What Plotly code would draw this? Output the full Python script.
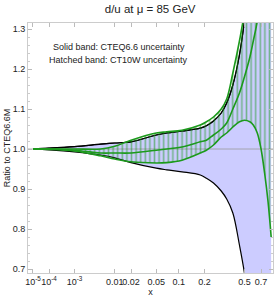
import numpy as np
import plotly.graph_objects as go

# x values (momentum fraction)
x = [1e-5, 1e-4, 1e-3, 0.005, 0.01, 0.02, 0.05, 0.07, 0.11, 0.18, 0.21, 0.25,
     0.3, 0.34, 0.39, 0.45, 0.5, 0.56, 0.6, 0.65, 0.7, 0.75, 0.8, 0.85]

# CTEQ6.6 uncertainty band (ratio to CTEQ6.6M)
cteq66_up = [1.0, 1.002, 1.006, 1.012, 1.015, 1.018, 1.035, 1.04, 1.045, 1.052, 1.058, 1.07,
             1.09, 1.115, 1.16, 1.235, 1.32, 1.44, 1.52, 1.64, 1.8, 2.0, 2.2, 2.4]
cteq66_lo = [1.0, 0.998, 0.993, 0.985, 0.978, 0.966, 0.952, 0.948, 0.943, 0.935, 0.927, 0.915,
             0.895, 0.875, 0.84, 0.76, 0.69, 0.58, 0.5, 0.42, 0.35, 0.3, 0.25, 0.2]

# CT10W uncertainty band and central
ct10w_up = [1.0, 1.0, 1.0, 1.0, 1.007, 1.022, 1.04, 1.043, 1.047, 1.06, 1.068, 1.08,
            1.1, 1.125, 1.19, 1.27, 1.34, 1.42, 1.5, 1.65, 1.8, 2.0, 2.2, 2.5]
ct10w_lo = [1.0, 0.999, 0.995, 0.983, 0.975, 0.968, 0.965, 0.966, 0.972, 0.99, 0.997, 1.01,
            1.03, 1.04, 1.055, 1.068, 1.072, 1.068, 1.06, 1.04, 1.0, 0.94, 0.87, 0.78]
ct10w_mid = [1.0, 1.0, 0.997, 0.99, 0.99, 0.99, 0.997, 1.0, 1.005, 1.018, 1.022, 1.035,
             1.05, 1.065, 1.1, 1.14, 1.18, 1.23, 1.27, 1.32, 1.4, 1.5, 1.6, 1.75]

tick_x = [1e-5, 1e-4, 1e-3, 0.01, 0.02, 0.05, 0.1, 0.2, 0.5, 0.7]
tick_text = ["10<sup>-5</sup>", "10<sup>-4</sup>", "10<sup>-3</sup>", "0.01", "0.02",
             "0.05", "0.1", "0.2", "0.5", "0.7"]

P = 0.2  # axis uses x^0.2 scaling
t = np.array(x) ** P

green = "#1c9a1c"
font = "Liberation Sans, Arial, sans-serif"

fig = go.Figure()
# CTEQ6.6 solid band
fig.add_trace(go.Scatter(x=t, y=cteq66_lo, mode="lines", line=dict(color="black", width=1.2, shape="spline"),
                         showlegend=False, hoverinfo="skip"))
fig.add_trace(go.Scatter(x=t, y=cteq66_up, mode="lines", line=dict(color="black", width=1.2, shape="spline"),
                         fill="tonexty", fillcolor="#ccccff", showlegend=False, hoverinfo="skip"))
# reference line at 1
fig.add_trace(go.Scatter(x=[0.0, 1.0], y=[1.0, 1.0], mode="lines", line=dict(color="#999999", width=0.8),
                         showlegend=False, hoverinfo="skip"))
# CTEQ6.6 edges again on top
fig.add_trace(go.Scatter(x=t, y=cteq66_up, mode="lines", line=dict(color="black", width=1.2, shape="spline"),
                         showlegend=False, hoverinfo="skip"))
# CT10W hatched band
fig.add_trace(go.Scatter(x=t, y=ct10w_lo, mode="lines", line=dict(color=green, width=1.6, shape="spline"),
                         showlegend=False, hoverinfo="skip"))
fig.add_trace(go.Scatter(x=t, y=ct10w_up, mode="lines", line=dict(color=green, width=1.6, shape="spline"),
                         fill="tonexty", fillcolor="rgba(0,0,0,0)",
                         fillpattern=dict(shape="|", size=4.6, solidity=0.35, fgcolor=green,
                                          bgcolor="rgba(0,0,0,0)"),
                         showlegend=False, hoverinfo="skip"))
fig.add_trace(go.Scatter(x=t, y=ct10w_mid, mode="lines", line=dict(color=green, width=1.6, shape="spline"),
                         showlegend=False, hoverinfo="skip"))

fig.update_layout(
    width=278, height=301,
    margin=dict(l=28, r=5, t=23, b=28),
    paper_bgcolor="white", plot_bgcolor="white",
    font=dict(family=font, size=9, color="#333333"),
    title=dict(text="d/u at μ = 85 GeV", x=0.54, xanchor="center", y=0.985, yanchor="top",
               font=dict(size=11.5, color="#222222")),
    annotations=[
        dict(text="Solid band: CTEQ6.6 uncertainty", x=0.37, y=0.93, xref="paper", yref="paper",
             showarrow=False, font=dict(size=9, color="#222222")),
        dict(text="Hatched band: CT10W uncertainty", x=0.37, y=0.882, xref="paper", yref="paper",
             showarrow=False, font=dict(size=9, color="#222222")),
    ],
)
fig.update_xaxes(range=[0.0818, 0.9747], tickvals=np.array(tick_x) ** P, ticktext=tick_text,
                 tickangle=0, automargin=False,
                 showgrid=False, zeroline=False, showline=True, linecolor="#cccccc", mirror="ticks",
                 ticks="inside", ticklen=4, tickcolor="#bbbbbb", tickfont=dict(size=9, color="#222222"),
                 title=dict(text="x", font=dict(size=9, color="#222222"), standoff=0))
fig.update_yaxes(range=[0.69, 1.315], tickvals=[0.7, 0.8, 0.9, 1.0, 1.1, 1.2, 1.3],
                 ticktext=["0.7", "0.8", "0.9", "1.0", "1.1", "1.2", "1.3"], automargin=False,
                 minor=dict(dtick=0.02, ticks="inside", ticklen=2, tickcolor="#cccccc"),
                 showgrid=False, zeroline=False, showline=True, linecolor="#cccccc", mirror="ticks",
                 ticks="inside", ticklen=4, tickcolor="#bbbbbb", tickfont=dict(size=9, color="#222222"),
                 title=dict(text="Ratio to CTEQ6.6M", font=dict(size=9, color="#222222"), standoff=0))

fig.write_html("out.html", config={"displayModeBar": False},
               post_script="document.body.style.margin='0px';")
